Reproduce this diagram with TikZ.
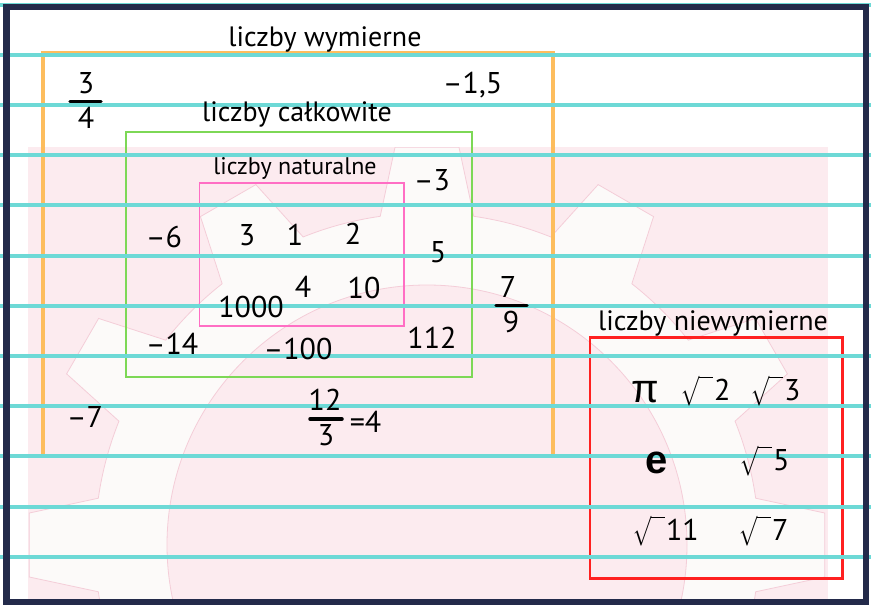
\documentclass[tikz,border=0pt]{standalone}
\usepackage{graphicx}
\usepackage{fontspec}
\setmainfont{PT Sans}
\newfontfamily\lib{Liberation Sans}
\newcommand\myrad{\raisebox{-2pt}{\resizebox*{32pt}{31pt}{$\sqrt{\vphantom{0}\hspace{16pt}}$}}}
\definecolor{bgpink}{HTML}{FCEBEF}
\definecolor{gearwhite}{HTML}{FCFAF9}
\definecolor{gearline}{HTML}{F4CDD8}
\definecolor{tealline}{HTML}{6DD9D6}
\definecolor{navy}{HTML}{232A4A}
\definecolor{orangebox}{HTML}{FDBD5D}
\definecolor{greenbox}{HTML}{7DD856}
\definecolor{pinkbox}{HTML}{FF6EC4}
\definecolor{redbox}{HTML}{FF2020}
\begin{document}
\begin{tikzpicture}[x=1pt,y=-1pt,
  every node/.style={inner sep=0pt,outer sep=0pt},
  lab/.style={font=\fontsize{28}{30}\selectfont, anchor=base},
  num/.style={font=\fontsize{30}{32}\selectfont, anchor=base},
  rad/.style={font=\fontsize{30}{32}\selectfont, anchor=base west},
  fracbar/.style={line width=3.5pt, line cap=round},
  ruled/.style={tealline, line width=4pt}]
\useasboundingbox (0,0) rectangle (871,605);
\fill[white] (0,0) rectangle (871,605);
\fill[bgpink] (28,147) rectangle (828,605);
\begin{scope}
  \clip (28,147) rectangle (828,605);
  \filldraw[fill=gearwhite, draw=gearline, line width=0.8pt]
    ([shift={(427,545)}]-8.1:332)
    \foreach \a in {0,30,...,330}{
      -- ([shift={(427,545)}]\a-4.6:399)
      -- ([shift={(427,545)}]\a+4.6:399)
      -- ([shift={(427,545)}]\a+8.1:332)
      arc[start angle=\a+8.1, end angle=\a+21.9, radius=332]
    } -- cycle;
  \filldraw[fill=bgpink, draw=gearline, line width=0.8pt] (427,545) circle[radius=260];
\end{scope}
% boxes
\draw[orangebox, line width=4pt] (43,53) rectangle (553,456);
\draw[greenbox, line width=2.8pt] (126,132) rectangle (472,377);
\draw[pinkbox, line width=1.4pt] (199.5,183) rectangle (404,326);
\draw[redbox, line width=2.2pt] (590,337.5) rectangle (842.5,578.5);
% ruled lines
\foreach \k in {0,...,11}
  \draw[ruled] (0,{4.8+50.17*\k}) -- (871,{4.8+50.17*\k});
% frame
\draw[navy, line width=6.5pt] (6.5,7) rectangle (866,602.5);
% titles
\node[lab] (wym) at (325,46.5) {liczby wymierne};
\node[lab] (calk) at (297,121.5) {liczby całkowite};
\node[lab, font=\fontsize{24}{26}\selectfont] (nat) at (295,174) {liczby naturalne};
\node[lab] (niew) at (713,330) {liczby niewymierne};
% rational
\node[num] (a3) at (86,93) {3};
\node[num] (a4) at (86,128) {4};
\draw[fracbar] (70,101.7) -- (101,101.7);
\node[num] (m15) at (472.5,93) {–1,5};
\node[num] (a79n) at (508,297) {7};
\node[num] (a79d) at (511,332) {9};
\draw[fracbar] (496,305.5) -- (527,305.5);
\node[num] (m7) at (85,427) {–7};
\node[num] (b12) at (325,410) {12};
\node[num] (b3) at (326,445) {3};
\draw[fracbar] (310,419) -- (342,419);
\node[num] (eq4) at (365.5,432) {=4};
% integers
\node[num] (m3) at (432,190) {–3};
\node[num] (m6) at (164,247) {–6};
\node[num] (p5) at (438,262) {5};
\node[num] (m14) at (172,354) {–14};
\node[num] (m100) at (298,359) {–100};
\node[num] (p112) at (432,348) {112};
% naturals
\node[num] (n3) at (247,245) {3};
\node[num] (n1) at (295,245) {1};
\node[num] (n2) at (353,244) {2};
\node[num] (n1000) at (251,317) {1000};
\node[num] (n4) at (303,297) {4};
\node[num] (n10) at (364,298) {10};
% irrationals
\node[anchor=base, font=\lib\fontsize{40}{42}\selectfont] (pi) at (645,402) {π};
\node[anchor=base, font=\lib\bfseries\fontsize{40}{42}\selectfont] (e) at (657,473) {e};
\node[rad] (r2) at (681,400) {\myrad\hspace{1pt}2};
\node[rad] (r3) at (751,400) {\myrad\hspace{1pt}3};
\node[rad] (r5) at (740,470) {\myrad\hspace{1pt}5};
\node[rad] (r11) at (633,540) {\myrad\hspace{1pt}11};
\node[rad] (r7) at (739,540) {\myrad\hspace{1pt}7};
\end{tikzpicture}
\end{document}
